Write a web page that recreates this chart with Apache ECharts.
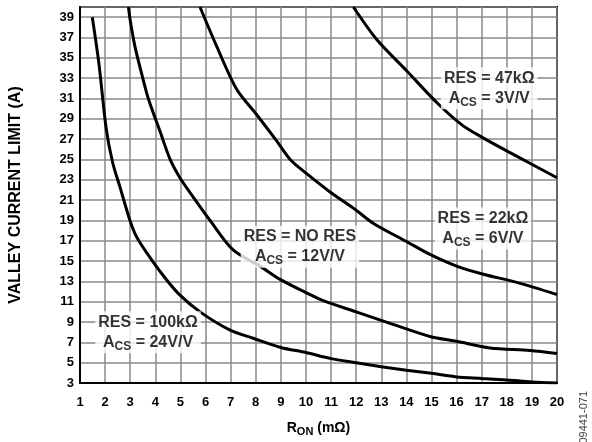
<!DOCTYPE html>
<html><head><meta charset="utf-8">
<script src="https://cdn.jsdelivr.net/npm/echarts@6/dist/echarts.min.js"></script>
<style>html,body{margin:0;padding:0;background:#fff}#c{width:592px;height:442px}</style>
</head><body><div id="c"></div>
<script>
// R_ON (mΩ) and valley current limit (A) for each curve
const ron100k = [1.49,1.75,2.04,2.3,2.59,2.99,3.25,3.66,4.32,4.92,5.78,6.98,7.9,9,10,11,12,13,14,15,16,17,18,19,20];
const cur100k = [39,34.5,28.1,24.7,22.3,19.0,17.4,15.8,13.55,11.8,10.0,8.2,7.4,6.5,6.0,5.4,5.0,4.6,4.25,3.95,3.6,3.45,3.3,3.1,3.0];
const ronNoRes = [2.93,3.0,3.19,3.45,3.72,4.19,4.59,4.98,5.51,6.18,7.1,8.17,8.97,10,10.69,12,13.35,14.94,16,17.33,18.93,20];
const curNoRes = [40,38.7,36.1,33.5,31.0,27.75,25.0,23.2,21.3,19.0,16.1,14.5,13.2,11.9,11.1,10.0,8.87,7.58,7.1,6.45,6.2,5.9];
const ron22k = [5.78,6.45,7.24,8.04,8.84,9.37,10.03,10.96,12.0,12.69,14.02,14.94,16,17.07,18.4,20];
const cur22k = [40,36.1,31.9,29.4,26.8,25.0,23.6,21.8,20.0,18.7,16.9,15.65,14.5,13.7,12.9,11.7];
const ron47k = [11.89,12.82,14.02,15.21,16.21,17.07,18.26,20];
const cur47k = [40,36.8,33.7,30.6,28.4,27.1,25.5,23.2];
const yTicks = [3,5,7,9,11,13,15,17,19,21,23,25,27,29,31,33,35,37,39];
const labelRes = ['100kΩ','NO RES','22kΩ','47kΩ'];
const labelAcs = ['24V/V','12V/V','6V/V','3V/V'];

const labelAt = [[3.71,8.0],[9.76,16.4],[17.05,18.2],[17.3,32.0]];
const zip = (a,b) => a.map((v,i)=>[v,b[i]]);
const font = 'Liberation Sans, Arial, sans-serif';
const curve = (x,y) => ({type:'line', data:zip(x,y), smooth:0.3, symbol:'none',
  lineStyle:{color:'#000', width:3}, z:3, clip:true});

const chart = echarts.init(document.getElementById('c'));
chart.setOption({
  animation:false,
  grid:{left:80, right:35, top:7, bottom:53, show:true, borderColor:'#000', borderWidth:2, backgroundColor:'transparent'},
  xAxis:{type:'value', min:1, max:20, interval:1,
    axisLine:{show:true, lineStyle:{color:'#000', width:2}}, axisTick:{show:false},
    splitLine:{show:true, lineStyle:{color:'#888', width:1.5}},
    axisLabel:{color:'#000', fontFamily:font, fontWeight:'bold', fontSize:13, margin:13},
    name:'{m|R}{s|ON}{m| (mΩ)}', nameLocation:'middle', nameGap:38,
    nameTextStyle:{rich:{m:{fontFamily:font, fontWeight:'bold', fontSize:14, color:'#000', verticalAlign:'top', lineHeight:16},
      s:{fontFamily:font, fontWeight:'bold', fontSize:11, color:'#000', verticalAlign:'bottom', lineHeight:16}}}
  },
  yAxis:{type:'value', min:3, max:40, interval:2,
    axisLine:{show:true, lineStyle:{color:'#000', width:2}}, axisTick:{show:false},
    splitLine:{show:true, lineStyle:{color:'#888', width:1.5}},
    axisLabel:{color:'#000', fontFamily:font, fontWeight:'bold', fontSize:13, margin:6, showMaxLabel:false,
      formatter: v => yTicks.includes(v) ? String(v) : ''},
    name:'VALLEY CURRENT LIMIT (A)', nameLocation:'middle', nameGap:56,
    nameTextStyle:{fontFamily:font, fontWeight:'bold', fontSize:16, color:'#000'}
  },
  series:[
    curve(ron100k,cur100k), curve(ronNoRes,curNoRes), curve(ron22k,cur22k), curve(ron47k,cur47k),
    {type:'scatter', symbolSize:0, z:5, silent:true,
      data: labelRes.map((r,i)=>({value:labelAt[i]})),
      label:{show:true, position:'inside', backgroundColor:'#fff', padding:[1,3,1,3],
        formatter: p => '{m|RES = ' + labelRes[p.dataIndex] + '}\n{m|A}{s|CS}{m| = ' + labelAcs[p.dataIndex] + '}',
        rich:{m:{fontFamily:font, fontWeight:'bold', fontSize:16, color:'#000', lineHeight:20},
              s:{fontFamily:font, fontWeight:'bold', fontSize:12, color:'#000', lineHeight:20, verticalAlign:'bottom', padding:[7,0,0,0]}}}
    }
  ],
  graphic:[{type:'text', left:578, top:391, rotation:Math.PI/2, style:{text:'09441-071', font:'11px '+font, fill:'#444'}}]
});
</script></body></html>
